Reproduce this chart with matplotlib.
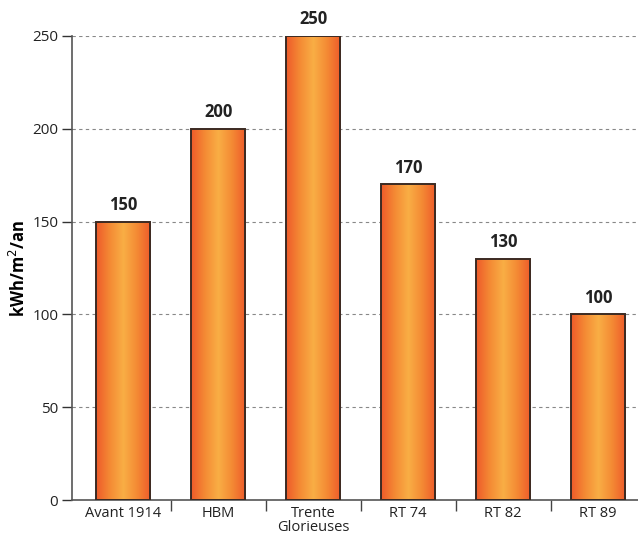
import numpy as np
import matplotlib.pyplot as plt
from matplotlib.colors import LinearSegmentedColormap

categories = ["Avant 1914", "HBM", "Trente\nGlorieuses", "RT 74", "RT 82", "RT 89"]
values = [150, 200, 250, 170, 130, 100]
yticks = [0, 50, 100, 150, 200, 250]

plt.rcParams['font.family'] = ['Open Sans', 'DejaVu Sans']

fig = plt.figure(figsize=(6.38, 5.36), dpi=100)
ax = fig.add_axes([0.113, 0.067, 0.887, 0.866])

x = np.arange(len(categories))
bars = ax.bar(x, values, width=0.57, color='none', edgecolor='#3b2a22',
              linewidth=1.4, zorder=3)

# horizontal orange gradient inside each bar
cmap = LinearSegmentedColormap.from_list(
    'bar', ['#ee5a2a', '#f48a34', '#f9ae45', '#f48a34', '#ee5a2a'])
grad = np.linspace(0, 1, 256).reshape(1, -1)
for b in bars:
    x0, w, h = b.get_x(), b.get_width(), b.get_height()
    im = ax.imshow(grad, cmap=cmap, aspect='auto', extent=[x0, x0 + w, 0, h],
                   zorder=2, interpolation='bilinear')
    im.set_clip_path(b)
    ax.text(x0 + w / 2, h + 4, str(int(h)), ha='center', va='bottom',
            fontsize=12, fontweight='bold', color='#222222')

ax.set_xlim(-0.54, 5.42)
ax.set_ylim(0, 250)
ax.set_yticks(yticks)
ax.tick_params(axis='y', labelsize=11, labelcolor='#222222', length=7,
               width=1, direction='out', pad=3, color='#333333')
ax.yaxis.grid(True, linestyle=(0, (3, 3)), color='#888888', linewidth=0.8, zorder=0)

ax.set_xticks(x)
ax.set_xticklabels(categories, fontsize=10.5, color='#222222', linespacing=0.9)
ax.tick_params(axis='x', length=0, pad=4)
ax.set_xticks(x[:-1] + 0.5, minor=True)
ax.tick_params(axis='x', which='minor', length=8, width=1, color='#444444')

for s in ['top', 'right']:
    ax.spines[s].set_visible(False)
for s in ['left', 'bottom']:
    ax.spines[s].set_color('#555555')
    ax.spines[s].set_linewidth(1.2)

ax.set_ylabel('kWh/m$^2$/an', fontsize=12, fontweight='bold', labelpad=2)

plt.savefig("out.png")
